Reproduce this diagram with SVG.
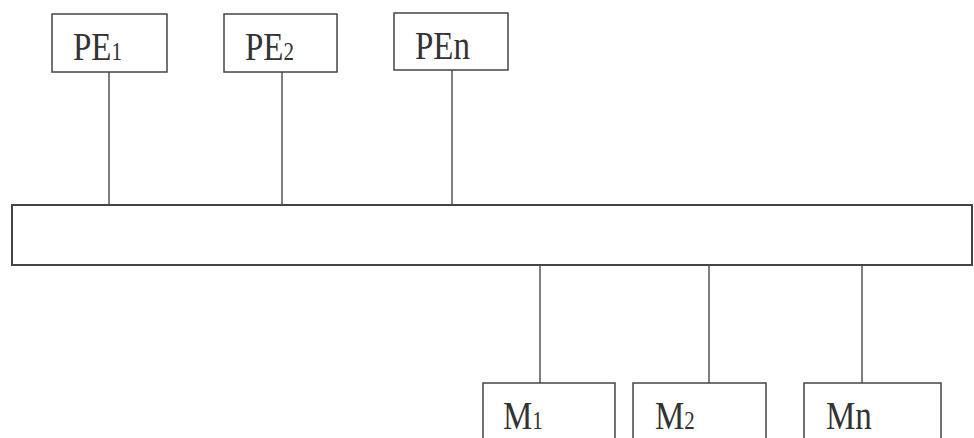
<svg xmlns="http://www.w3.org/2000/svg" width="974" height="438" viewBox="0 0 974 438">
<style>
.box{fill:#fff;stroke:#444;stroke-width:1.5}
.bus{fill:#fff;stroke:#444;stroke-width:2}
.ln{stroke:#555;stroke-width:1.5}
.t{font-family:"Liberation Serif",serif;font-size:33px;fill:#333}
.s{font-size:21px}
</style>
<rect width="974" height="438" fill="#fff"/>
<g id="connectors">
<line class="ln" x1="109" y1="72" x2="109" y2="205"/>
<line class="ln" x1="282" y1="72" x2="282" y2="205"/>
<line class="ln" x1="452" y1="70" x2="452" y2="205"/>
<line class="ln" x1="540" y1="265" x2="540" y2="383"/>
<line class="ln" x1="709" y1="265" x2="709" y2="383"/>
<line class="ln" x1="862" y1="265" x2="862" y2="383"/>
</g>
<g id="bus"><rect class="bus" x="12" y="205" width="960" height="60"/></g>
<g id="pe1"><rect class="box" x="52" y="14" width="115" height="58"/><text class="t" transform="translate(73,60) scale(1,1.2)">PE<tspan class="s">1</tspan></text></g>
<g id="pe2"><rect class="box" x="224" y="14" width="113" height="58"/><text class="t" transform="translate(245,60) scale(1,1.2)">PE<tspan class="s">2</tspan></text></g>
<g id="pen"><rect class="box" x="394" y="13" width="114" height="57"/><text class="t" transform="translate(415,59) scale(1,1.2)">PEn</text></g>
<g id="m1"><rect class="box" x="483" y="383" width="132" height="70"/><text class="t" transform="translate(503,429) scale(1,1.2)">M<tspan class="s">1</tspan></text></g>
<g id="m2"><rect class="box" x="633" y="383" width="133" height="70"/><text class="t" transform="translate(655,429) scale(1,1.2)">M<tspan class="s">2</tspan></text></g>
<g id="mn"><rect class="box" x="804" y="383" width="137" height="70"/><text class="t" transform="translate(826,429) scale(1,1.2)">Mn</text></g>
</svg>
